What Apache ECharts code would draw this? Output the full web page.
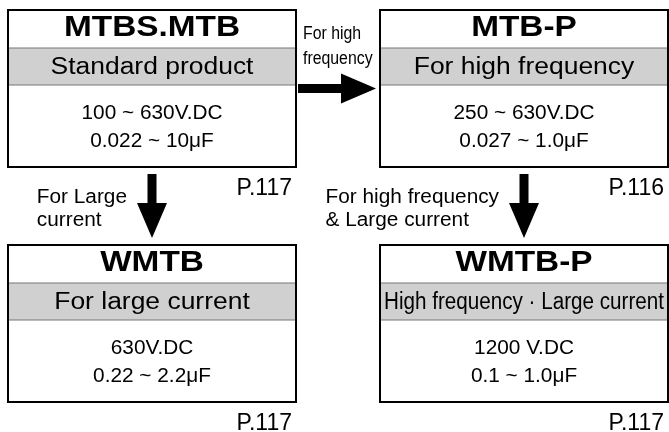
<!DOCTYPE html>
<html>
<head>
<meta charset="utf-8">
<script src="https://cdn.jsdelivr.net/npm/echarts@6/dist/echarts.min.js"></script>
<style>html,body{margin:0;padding:0;background:#fff}#c{width:669px;height:432px}</style>
</head>
<body>
<div id="c"></div>
<script>
// ---- data ----
const columns = ['left', 'right'];
const rows = ['top', 'bottom'];
const products = ['MTBS.MTB', 'MTB-P', 'WMTB', 'WMTB-P'];
const productColumn = ['left', 'right', 'left', 'right'];
const productRow = ['top', 'top', 'bottom', 'bottom'];
const features = ['Standard product', 'For high frequency', 'For large current', 'High frequency \u00b7 Large current'];
const voltages = ['100 ~ 630V.DC', '250 ~ 630V.DC', '630V.DC', '1200 V.DC'];
const capacitances = ['0.022 ~ 10\u03bcF', '0.027 ~ 1.0\u03bcF', '0.22 ~ 2.2\u03bcF', '0.1 ~ 1.0\u03bcF'];
const pages = ['P.117', 'P.116', 'P.117', 'P.117'];
const arrowFrom = ['MTBS.MTB', 'MTBS.MTB', 'MTB-P'];
const arrowTo = ['MTB-P', 'WMTB', 'WMTB-P'];
const arrowLabels = [['For high', 'frequency'], ['For Large', 'current'], ['For high frequency', '& Large current']];

// ---- layout / style ----
const W = 669, H = 432;
const COL_X0 = 152, COL_STEP = 372;   // pixel centre of first column, spacing
const ROW_Y0 = 88.5, ROW_STEP = 235;  // pixel centre of first row, spacing
const FAM = "'Liberation Sans', Arial, Helvetica, sans-serif";
const BOX_W = 288, BOX_H = 157;
const mctx = document.createElement('canvas').getContext('2d');
function measure(text, font) { mctx.font = font; return mctx.measureText(text).width; }

function renderBox(params, api) {
  const i = api.value(2);
  const c = api.coord([api.value(0), api.value(1)]);
  const x0 = c[0] - BOX_W / 2, y0 = c[1] - BOX_H / 2;
  const titleFont = 'bold 29px ' + FAM;
  const featFont = '23px ' + FAM;
  const specFont = '20px ' + FAM;
  const fw = measure(features[i], featFont);
  const fsx = Math.min(1.15, (BOX_W - 8) / fw);
  return {
    type: 'group',
    children: [
      { type: 'rect', shape: { x: x0, y: y0, width: BOX_W, height: BOX_H }, style: { fill: '#fff' } },
      { type: 'rect', shape: { x: x0, y: y0 + 38, width: BOX_W, height: 37 }, style: { fill: '#d0d0d0', stroke: '#777', lineWidth: 1 } },
      { type: 'rect', shape: { x: x0, y: y0, width: BOX_W, height: BOX_H }, style: { fill: null, stroke: '#000', lineWidth: 2 } },
      { type: 'text', x: c[0], y: y0 + 18, scaleX: 1.15, style: { text: products[i], x: 0, y: 0, align: 'center', verticalAlign: 'middle', font: titleFont, fill: '#000' } },
      { type: 'text', x: c[0], y: y0 + 58, scaleX: fsx, style: { text: features[i], x: 0, y: 0, align: 'center', verticalAlign: 'middle', font: featFont, fill: '#000' } },
      { type: 'text', x: c[0], y: y0 + 103, scaleX: 1.04, style: { text: voltages[i], x: 0, y: 0, align: 'center', verticalAlign: 'middle', font: specFont, fill: '#000' } },
      { type: 'text', x: c[0], y: y0 + 131, scaleX: 1.04, style: { text: capacitances[i], x: 0, y: 0, align: 'center', verticalAlign: 'middle', font: specFont, fill: '#000' } },
      { type: 'text', x: x0 + BOX_W - 4, y: y0 + 179, style: { text: pages[i], x: 0, y: 0, align: 'right', verticalAlign: 'middle', font: '23px ' + FAM, fill: '#000' } }
    ]
  };
}

function renderArrow(params, api) {
  const i = api.value(4);
  const a = api.coord([api.value(0), api.value(1)]);
  const b = api.coord([api.value(2), api.value(3)]);
  const SH = 4.5, HW = 15, HL = 35;
  const children = [];
  if (Math.abs(a[1] - b[1]) < 1) {
    const y = a[1];
    const xs = a[0] + BOX_W / 2 + 2, xe = b[0] - BOX_W / 2 - 4;
    children.push({ type: 'polygon', shape: { points: [[xs, y - SH], [xe - HL, y - SH], [xe - HL, y - HW], [xe, y], [xe - HL, y + HW], [xe - HL, y + SH], [xs, y + SH]] }, style: { fill: '#000' } });
    const font = '18px ' + FAM;
    arrowLabels[i].forEach((t, k) => {
      children.push({ type: 'text', x: xs + 5, y: y - 54 + k * 25, scaleX: 0.88, style: { text: t, x: 0, y: 0, align: 'left', verticalAlign: 'middle', font: font, fill: '#000' } });
    });
  } else {
    const x = a[0];
    const ys = a[1] + BOX_H / 2 + 7, ye = b[1] - BOX_H / 2 - 7;
    children.push({ type: 'polygon', shape: { points: [[x - SH, ys], [x + SH, ys], [x + SH, ye - HL], [x + HW, ye - HL], [x, ye], [x - HW, ye - HL], [x - SH, ye - HL]] }, style: { fill: '#000' } });
    const font = '20px ' + FAM;
    const sx = 1.04;
    const w = Math.max(...arrowLabels[i].map(t => measure(t, font))) * sx;
    const lx = x - 25 - w;
    arrowLabels[i].forEach((t, k) => {
      children.push({ type: 'text', x: lx, y: a[1] + BOX_H / 2 + 30 + k * 23.5, scaleX: sx, style: { text: t, x: 0, y: 0, align: 'left', verticalAlign: 'middle', font: font, fill: '#000' } });
    });
  }
  return { type: 'group', children };
}

const colIdx = n => columns.indexOf(n);
const rowIdx = n => rows.indexOf(n);
const boxData = products.map((p, i) => [colIdx(productColumn[i]), rowIdx(productRow[i]), i]);
const arrowData = arrowFrom.map((f, i) => {
  const a = products.indexOf(f), b = products.indexOf(arrowTo[i]);
  return [colIdx(productColumn[a]), rowIdx(productRow[a]), colIdx(productColumn[b]), rowIdx(productRow[b]), i];
});

const xMin = -COL_X0 / COL_STEP, xMax = xMin + W / COL_STEP;
const yMin = -ROW_Y0 / ROW_STEP, yMax = yMin + H / ROW_STEP;

const chart = echarts.init(document.getElementById('c'), null, { renderer: 'canvas' });
chart.setOption({
  animation: false,
  backgroundColor: '#fff',
  grid: { left: 0, right: 0, top: 0, bottom: 0 },
  xAxis: { type: 'value', min: xMin, max: xMax, show: false },
  yAxis: { type: 'value', min: yMin, max: yMax, inverse: true, show: false },
  series: [
    { type: 'custom', renderItem: renderBox, data: boxData, encode: { x: 0, y: 1 }, clip: false, silent: true },
    { type: 'custom', renderItem: renderArrow, data: arrowData, encode: { x: [0, 2], y: [1, 3] }, clip: false, silent: true }
  ]
});
</script>
</body>
</html>
